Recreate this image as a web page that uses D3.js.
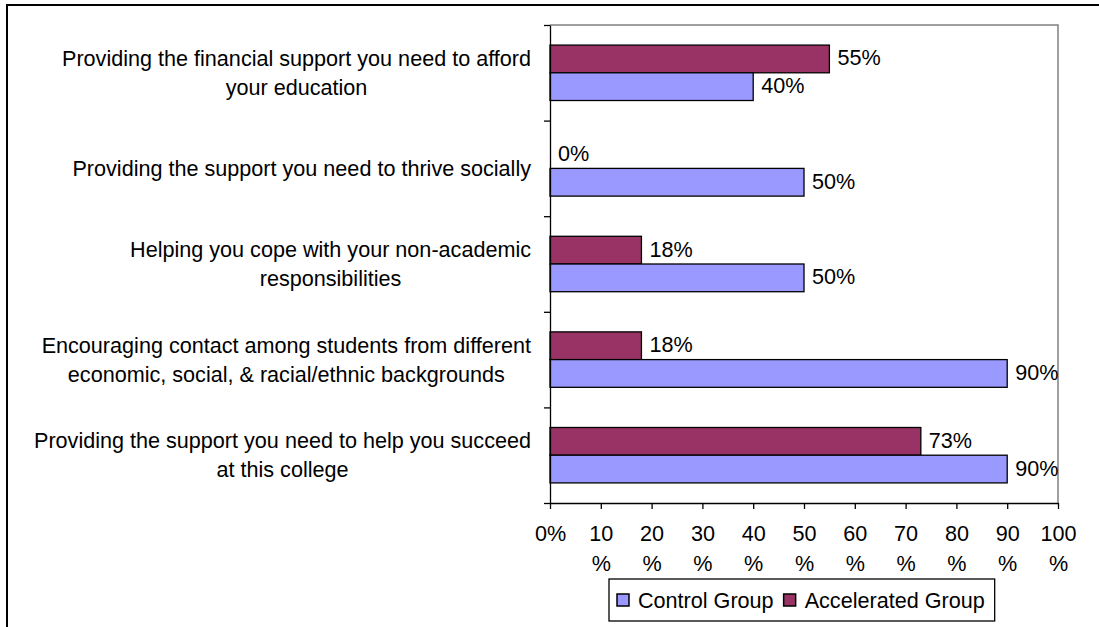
<!DOCTYPE html>
<html>
<head>
<meta charset="utf-8">
<script src="https://cdn.jsdelivr.net/npm/d3@7"></script>
<style>
  html, body { margin: 0; padding: 0; background: #fff; }
  svg { display: block; font-family: "Liberation Sans", Arial, sans-serif; }
</style>
</head>
<body>
<svg id="chart" width="1099" height="627"></svg>
<script>
// ---------- data ----------
const categories = [
  ["Providing the financial support you need to afford", "your education"],
  ["Providing the support you need to thrive socially"],
  ["Helping you cope with your non-academic", "responsibilities"],
  ["Encouraging contact among students from different", "economic, social, & racial/ethnic backgrounds"],
  ["Providing the support you need to help you succeed", "at this college"]
];
const seriesNames = ["Control Group", "Accelerated Group"];
const controlValues = [40, 50, 50, 90, 90];
const acceleratedValues = [55, 0, 18, 18, 73];
const tickValues = [0, 10, 20, 30, 40, 50, 60, 70, 80, 90, 100];
const tickLabels = [["0%"], ["10", "%"], ["20", "%"], ["30", "%"], ["40", "%"], ["50", "%"],
                    ["60", "%"], ["70", "%"], ["80", "%"], ["90", "%"], ["100", "%"]];

// ---------- styles ----------
const colors = { "Control Group": "#9999FF", "Accelerated Group": "#993366" };
const fontSize = 21.6;

const svg = d3.select("#chart");

// outer frame (right/bottom edges outside the view)
svg.append("rect")
  .attr("x", 7).attr("y", 5).attr("width", 1200).attr("height", 700)
  .attr("fill", "#fff").attr("stroke", "#000").attr("stroke-width", 2);

const plot = { left: 550, right: 1058, top: 25, bottom: 503 };

const x = d3.scaleLinear().domain([0, 100]).range([plot.left, plot.right]);
const y = d3.scaleBand().domain(d3.range(categories.length)).range([plot.top, plot.bottom]);
const sub = d3.scaleBand().domain(["Accelerated Group", "Control Group"])
  .range([0, y.bandwidth()]).paddingInner(0).paddingOuter(0.725);
const yEdges = d3.scaleLinear().domain([0, categories.length]).range([plot.top, plot.bottom]);

// plot-area frame (top / right, grey)
svg.append("path")
  .attr("d", `M${plot.left},${plot.top}H${plot.right}V${plot.bottom}`)
  .attr("fill", "none").attr("stroke", "#808080").attr("stroke-width", 1.5);

// bars
const rows = categories.map((c, i) => ({
  i,
  vals: [
    { s: "Accelerated Group", v: acceleratedValues[i] },
    { s: "Control Group", v: controlValues[i] }
  ]
}));

const g = svg.selectAll("g.row").data(rows).enter().append("g")
  .attr("class", "row")
  .attr("transform", d => `translate(0,${y(d.i)})`);

g.selectAll("rect").data(d => d.vals.filter(v => v.v > 0)).enter().append("rect")
  .attr("x", x(0))
  .attr("y", d => sub(d.s))
  .attr("width", d => x(d.v) - x(0))
  .attr("height", sub.bandwidth())
  .attr("fill", d => colors[d.s])
  .attr("stroke", "#000").attr("stroke-width", 1.3);

g.selectAll("text.val").data(d => d.vals).enter().append("text")
  .attr("class", "val")
  .attr("x", d => x(d.v) + 8)
  .attr("y", d => sub(d.s) + sub.bandwidth() / 2 - 1)
  .attr("dominant-baseline", "central")
  .attr("font-size", fontSize)
  .attr("fill", "#000")
  .text(d => d.v + "%");

// y axis (ticks at category boundaries)
svg.append("g")
  .attr("transform", `translate(${plot.left},0)`)
  .call(d3.axisLeft(yEdges).tickValues(d3.range(categories.length + 1)).tickSize(6).tickSizeOuter(0).tickFormat(""))
  .call(s => s.selectAll("line,path").attr("stroke", "#000").attr("stroke-width", 1.3));

// x axis
const xAxis = svg.append("g")
  .attr("transform", `translate(0,${plot.bottom})`)
  .call(d3.axisBottom(x).tickValues(tickValues).tickSize(6).tickSizeOuter(0).tickFormat(""))
  .call(s => s.selectAll("line,path").attr("stroke", "#000").attr("stroke-width", 1.3));

xAxis.selectAll(".tick").each(function (d, i) {
  const t = d3.select(this).append("text")
    .attr("fill", "#000").attr("font-size", fontSize)
    .attr("text-anchor", "middle").attr("font-family", "Liberation Sans, Arial, sans-serif");
  tickLabels[i].forEach((line, k) => {
    t.append("tspan").attr("x", 0).attr("y", 38 + k * 30).text(line);
  });
});

// category labels: block right-aligned, lines centred within block
const labelRight = 531;
const lineGap = 29;
categories.forEach((lines, i) => {
  const grp = svg.append("g");
  const texts = lines.map(l => grp.append("text")
    .attr("font-size", fontSize).attr("fill", "#000")
    .attr("text-anchor", "middle").attr("dominant-baseline", "central").text(l));
  const widths = texts.map(t => t.node().getComputedTextLength());
  const maxW = d3.max(widths);
  const cx = labelRight - maxW / 2;
  const cy = y(i) + y.bandwidth() / 2;
  texts.forEach((t, k) => {
    t.attr("x", cx).attr("y", cy + (k - (lines.length - 1) / 2) * lineGap);
  });
});

// legend
const legend = { x: 609, y: 579, h: 42 };
const lg = svg.append("g");
const lgBox = lg.append("rect").attr("x", legend.x).attr("y", legend.y).attr("height", legend.h)
  .attr("fill", "#fff").attr("stroke", "#000").attr("stroke-width", 1.3);
let cursor = legend.x + 8;
seriesNames.forEach(name => {
  lg.append("rect").attr("x", cursor).attr("y", legend.y + legend.h / 2 - 6)
    .attr("width", 12).attr("height", 12)
    .attr("fill", colors[name]).attr("stroke", "#000").attr("stroke-width", 1.5);
  const t = lg.append("text").attr("x", cursor + 21).attr("y", legend.y + legend.h / 2)
    .attr("dominant-baseline", "central").attr("font-size", fontSize).attr("fill", "#000").text(name);
  cursor += 21 + t.node().getComputedTextLength() + 10;
});
lgBox.attr("width", cursor - legend.x);
</script>
</body>
</html>
